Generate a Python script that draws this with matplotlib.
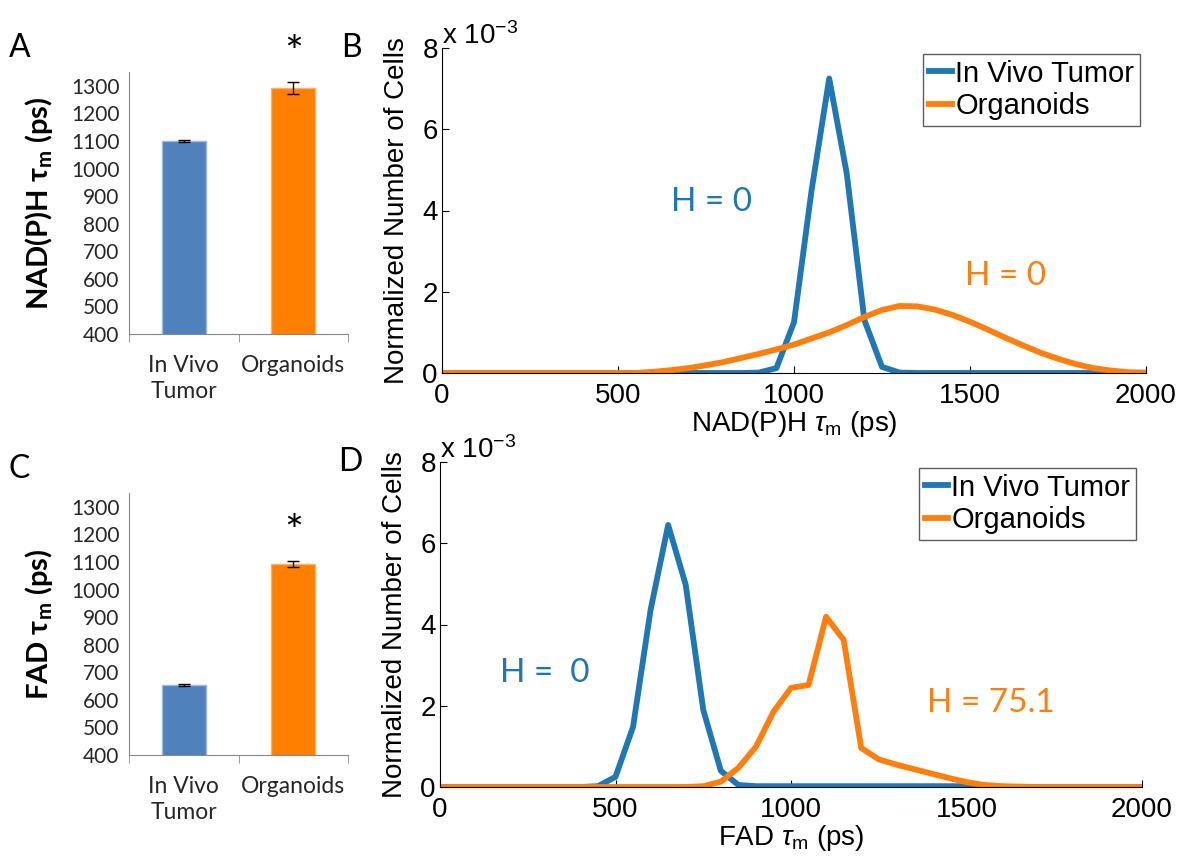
import numpy as np
import matplotlib.pyplot as plt

plt.rcParams['mathtext.fontset'] = 'custom'
plt.rcParams['mathtext.rm'] = 'Liberation Sans'
plt.rcParams['mathtext.it'] = 'Liberation Sans:italic'
plt.rcParams['mathtext.bf'] = 'Lato:bold'

# Данные: средние значения (столбцы)
groups = ['In Vivo\nTumor', 'Organoids']
nadh_mean = [1100, 1291]
nadh_err = [3, 22]
fad_mean = [655, 1092]
fad_err = [3, 12]

# Гистограммы (x 10^-3), шаг 50 пс
tau = np.arange(0, 2001, 50)
nadh_tumor = [0, 0, 0, 0, 0, 0, 0, 0, 0, 0,
              0, 0, 0, 0, 0, 0, 0, 0, 0.01, 0.12,
              1.25, 4.5, 7.25, 4.9, 1.3, 0.15, 0.01, 0, 0, 0,
              0, 0, 0, 0, 0, 0, 0, 0, 0, 0, 0]
nadh_org = [0, 0, 0, 0, 0, 0, 0, 0, 0, 0,
            0, 0, 0.03, 0.07, 0.12, 0.19, 0.27, 0.37, 0.47, 0.58,
            0.7, 0.85, 1.0, 1.18, 1.38, 1.55, 1.65, 1.64, 1.56, 1.43,
            1.26, 1.07, 0.87, 0.68, 0.5, 0.35, 0.22, 0.12, 0.06, 0.02, 0.01]
fad_tumor = [0, 0, 0, 0, 0, 0, 0, 0, 0, 0.02,
             0.25, 1.48, 4.36, 6.45, 4.98, 1.9, 0.4, 0.05, 0.02, 0.02,
             0.02, 0.02, 0.02, 0.02, 0.02, 0.02, 0.02, 0.02, 0.02, 0.02,
             0.02, 0.02, 0, 0, 0, 0, 0, 0, 0, 0, 0]
fad_org = [0, 0, 0, 0, 0, 0, 0, 0, 0, 0,
           0, 0, 0, 0, 0, 0.02, 0.13, 0.47, 0.99, 1.85,
           2.44, 2.51, 4.19, 3.62, 0.96, 0.68, 0.55, 0.44, 0.33, 0.22,
           0.12, 0.05, 0.02, 0.01, 0, 0, 0, 0, 0, 0, 0]

W, H = 1185, 864
fig = plt.figure(figsize=(W / 100, H / 100), dpi=100)


def px_axes(l, t, r, b):
    return fig.add_axes([l / W, 1 - b / H, (r - l) / W, (b - t) / H])


bar_font = ['Lato', 'DejaVu Sans']
c_blue_bar = '#4F81BD'
c_orange_bar = '#FF8000'


def bar_panel(ax, means, errs, ylabel, letter):
    ax.bar([0, 1], means, width=0.4, color=[c_blue_bar, c_orange_bar],
           edgecolor=['#9DB9DC', '#FFB266'], linewidth=1,
           yerr=errs, capsize=4, error_kw=dict(lw=1, capthick=1, ecolor='black'))
    ax.set_xlim(-0.5, 1.5)
    ax.set_ylim(400, 1350)
    ax.set_yticks(np.arange(400, 1301, 100))
    ax.set_xticks([0, 1])
    ax.set_xticklabels(groups, family=bar_font, fontsize=16.5, color='#262626',
                       linespacing=1.3)
    ax.set_xticks([-0.5, 0.5, 1.5], minor=True)
    ax.tick_params(axis='x', which='major', length=0, pad=15)
    ax.tick_params(axis='x', which='minor', length=6, direction='out', color='#888888')
    ax.tick_params(axis='y', length=0, pad=7, labelcolor='#262626')
    for t in ax.get_yticklabels():
        t.set_family(bar_font)
        t.set_fontsize(15)
    for s in ['top', 'right']:
        ax.spines[s].set_visible(False)
    for s in ['left', 'bottom']:
        ax.spines[s].set_color('#888888')
    ax.set_ylabel(ylabel, family=bar_font, fontsize=21, fontweight='bold')
    ax.yaxis.set_label_coords(-0.34, 0.5)
    ax.annotate('*', xy=(1, means[1] + errs[1]), xytext=(0, 20),
                textcoords='offset points', ha='center', va='center',
                fontsize=32, family=bar_font, annotation_clip=False)
    ax.text(-0.5, 1.09, letter, transform=ax.transAxes, fontsize=23,
            family=bar_font, ha='center', va='center')


line_font = ['Liberation Sans', 'DejaVu Sans']
c_blue = '#1F77B4'
c_orange = '#FF7F0E'


def hist_panel(ax, y_tumor, y_org, xlabel, letter, labels):
    ax.plot(tau, y_tumor, color=c_blue, lw=4.2, label='In Vivo Tumor')
    ax.plot(tau, y_org, color=c_orange, lw=4.2, label='Organoids')
    ax.set_xlim(0, 2000)
    ax.set_ylim(0, 8)
    ax.set_xticks([0, 500, 1000, 1500, 2000])
    ax.set_yticks([0, 2, 4, 6, 8])
    ax.tick_params(direction='in', length=5, labelsize=20, pad=7)
    ax.tick_params(axis='y', pad=3)
    for t in ax.get_xticklabels() + ax.get_yticklabels():
        t.set_family(line_font)
    for s in ['top', 'right']:
        ax.spines[s].set_visible(False)
    ax.set_xlabel(xlabel, family=line_font, fontsize=20, labelpad=0)
    ax.set_ylabel('Normalized Number of Cells', family=line_font, fontsize=20)
    ax.yaxis.set_label_coords(-0.045, 0.5)
    ax.text(0.0, 1.012, r'x 10$^{-3}$', transform=ax.transAxes, family=line_font,
            fontsize=20, ha='left', va='baseline')
    leg = ax.legend(loc='upper right', bbox_to_anchor=(1.0, 1.0), borderaxespad=0.2,
                    prop={'family': line_font, 'size': 21}, handlelength=0.8,
                    handletextpad=0.1, labelspacing=0.15, borderpad=0.2,
                    fancybox=False, edgecolor='#333333')
    leg.get_frame().set_linewidth(1.0)
    for (x, y, s, c) in labels:
        ax.text(x, y, s, color=c, fontsize=24, family=bar_font, ha='center', va='center')
    ax.text(-0.128, 1.0, letter, transform=ax.transAxes, fontsize=23,
            family=bar_font, ha='center', va='center')


axA = px_axes(129, 72, 348, 334)
bar_panel(axA, nadh_mean, nadh_err, r'NAD(P)H $\mathbf{\tau_m}$ (ps)', 'A')
axC = px_axes(129, 493, 348, 755)
bar_panel(axC, fad_mean, fad_err, r'FAD $\mathbf{\tau_m}$ (ps)', 'C')

axB = px_axes(442, 48, 1146, 373)
hist_panel(axB, nadh_tumor, nadh_org, r'NAD(P)H $\tau_{\mathrm{m}}$ (ps)', 'B',
           [(767, 4.2, 'H = 0', c_blue), (1602, 2.39, 'H = 0', c_orange)])
axD = px_axes(440, 462, 1142, 787)
hist_panel(axD, fad_tumor, fad_org, r'FAD $\tau_{\mathrm{m}}$ (ps)', 'D',
           [(299, 2.8, 'H =  0', c_blue), (1570, 2.07, 'H = 75.1', c_orange)])

fig.savefig('out.png', dpi=100, facecolor='white')
